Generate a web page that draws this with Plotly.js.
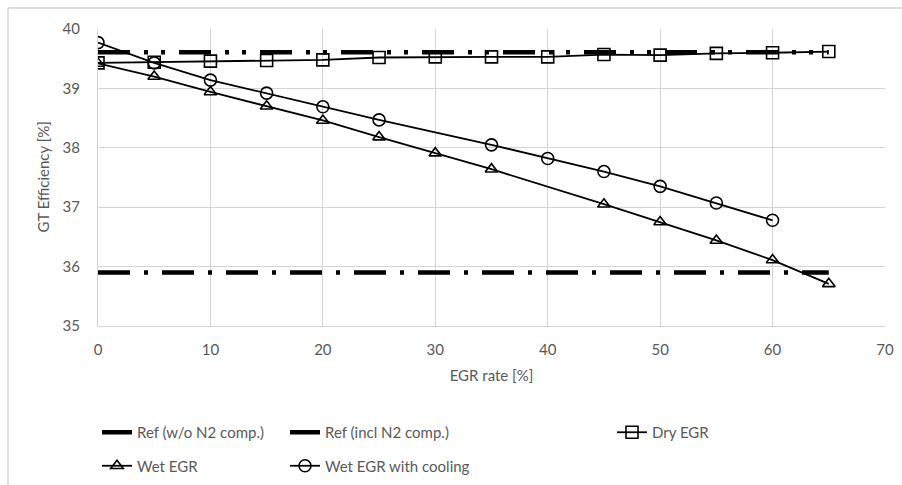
<!DOCTYPE html>
<html>
<head>
<meta charset="utf-8">
<script src="https://cdn.plot.ly/plotly-3.0.1.min.js"></script>
<style>html,body{margin:0;padding:0;background:#fff;}#chart{width:902px;height:485px;}</style>
</head>
<body>
<div id="chart"></div>
<script>
// ---- data ----
const refX = [0, 65];
const refWithoutN2 = [39.61, 39.61];
const refInclN2 = [35.90, 35.90];

const dryX = [0, 5, 10, 15, 20, 25, 30, 35, 40, 45, 50, 55, 60, 65];
const dryEGR = [39.43, 39.44, 39.46, 39.47, 39.48, 39.52, 39.53, 39.53, 39.53, 39.57, 39.56, 39.59, 39.60, 39.62];

const wetX = [0, 5, 10, 15, 20, 25, 30, 35, 45, 50, 55, 60, 65];
const wetEGR = [39.42, 39.20, 38.94, 38.70, 38.46, 38.18, 37.91, 37.64, 37.05, 36.75, 36.44, 36.11, 35.71];

const coolX = [0, 5, 10, 15, 20, 25, 35, 40, 45, 50, 55, 60];
const wetEGRCooling = [39.77, 39.43, 39.14, 38.92, 38.69, 38.47, 38.05, 37.82, 37.60, 37.35, 37.07, 36.78];

const names = ['Ref (w/o N2 comp.)', 'Ref (incl N2 comp.)', 'Dry EGR', 'Wet EGR', 'Wet EGR with cooling'];
const xTitle = 'EGR rate [%]';
const yTitle = 'GT Efficiency [%]';

// ---- chart ----
const FONT = 'Lato, "Open Sans", sans-serif';
const GRAY = '#595959';
const GRID = '#d4d4d4';
const NOTICK = 'rgba(0,0,0,0)';

const traces = [
  {x: refX, y: refWithoutN2, name: names[0], mode: 'lines', legend: 'legend', legendgroup: 'a',
   line: {color: '#000', width: 4.5, dash: '32px,14px,4px,13px,4px,14px'}},
  {x: refX, y: refInclN2, name: names[1], mode: 'lines', legend: 'legend2', legendgroup: 'b',
   line: {color: '#000', width: 4.5, dash: '32px,14px,4px,14px'}},
  {x: dryX, y: dryEGR, name: names[2], mode: 'lines+markers', legend: 'legend3', legendgroup: 'c',
   line: {color: '#000', width: 1.8},
   marker: {symbol: 'square-open', size: 12, color: '#000', line: {width: 1.6, color: '#000'}}},
  {x: wetX, y: wetEGR, name: names[3], mode: 'lines+markers', legend: 'legend', legendgroup: 'd',
   line: {color: '#000', width: 1.8},
   marker: {symbol: 'triangle-up-open', size: 11, color: '#000', line: {width: 1.6, color: '#000'}}},
  {x: coolX, y: wetEGRCooling, name: names[4], mode: 'lines+markers', legend: 'legend2', legendgroup: 'e',
   line: {color: '#000', width: 1.8},
   marker: {symbol: 'circle-open', size: 12, color: '#000', line: {width: 1.6, color: '#000'}}}
];

const legendBase = {
  orientation: 'v', xref: 'container', yref: 'container', xanchor: 'left', yanchor: 'top',
  font: {family: FONT, size: 15, color: GRAY}, bgcolor: 'rgba(0,0,0,0)', tracegroupgap: 11,
  itemwidth: 30
};

const layout = {
  width: 902, height: 485,
  margin: {l: 98, r: 17, t: 29, b: 159, autoexpand: false},
  paper_bgcolor: '#fff', plot_bgcolor: '#fff',
  font: {family: FONT, size: 15, color: GRAY},
  xaxis: {
    range: [0, 70], dtick: 10, tick0: 0, automargin: false, tickangle: 0,
    showgrid: true, gridcolor: GRID, gridwidth: 1,
    showline: true, linecolor: GRID, linewidth: 1, zeroline: false,
    ticks: 'outside', ticklen: 10, tickcolor: NOTICK,
    tickfont: {family: FONT, size: 15, color: GRAY},
    title: {text: xTitle, font: {family: FONT, size: 15, color: GRAY}}
  },
  yaxis: {
    range: [35, 40], dtick: 1, tick0: 35, automargin: false,
    showgrid: true, gridcolor: GRID, gridwidth: 1,
    showline: true, linecolor: GRID, linewidth: 1, zeroline: false,
    ticks: 'outside', ticklen: 14, tickcolor: NOTICK,
    tickfont: {family: FONT, size: 15, color: GRAY}
  },
  annotations: [
    {text: yTitle, xref: 'paper', yref: 'paper', x: -56 / 787, y: 0.5, xanchor: 'center', yanchor: 'middle',
     textangle: -90, showarrow: false, font: {family: FONT, size: 15, color: GRAY}}
  ],
  showlegend: true,
  legend: Object.assign({}, legendBase, {x: 97 / 902, y: 1 - 416 / 485}),
  legend2: Object.assign({}, legendBase, {x: 285 / 902, y: 1 - 416 / 485}),
  legend3: Object.assign({}, legendBase, {x: 612 / 902, y: 1 - 416 / 485}),
  shapes: [
    {type: 'line', xref: 'paper', yref: 'paper', x0: -90 / 787, x1: -90 / 787, y0: 1 + 21 / 297, y1: -159 / 297,
     line: {color: GRID, width: 1.5}},
    {type: 'line', xref: 'paper', yref: 'paper', x0: -90 / 787, x1: 804 / 787, y0: 1 + 21 / 297, y1: 1 + 21 / 297,
     line: {color: GRID, width: 1.5}}
  ]
};

Plotly.newPlot('chart', traces, layout, {displayModeBar: false, staticPlot: true});
</script>
</body>
</html>
